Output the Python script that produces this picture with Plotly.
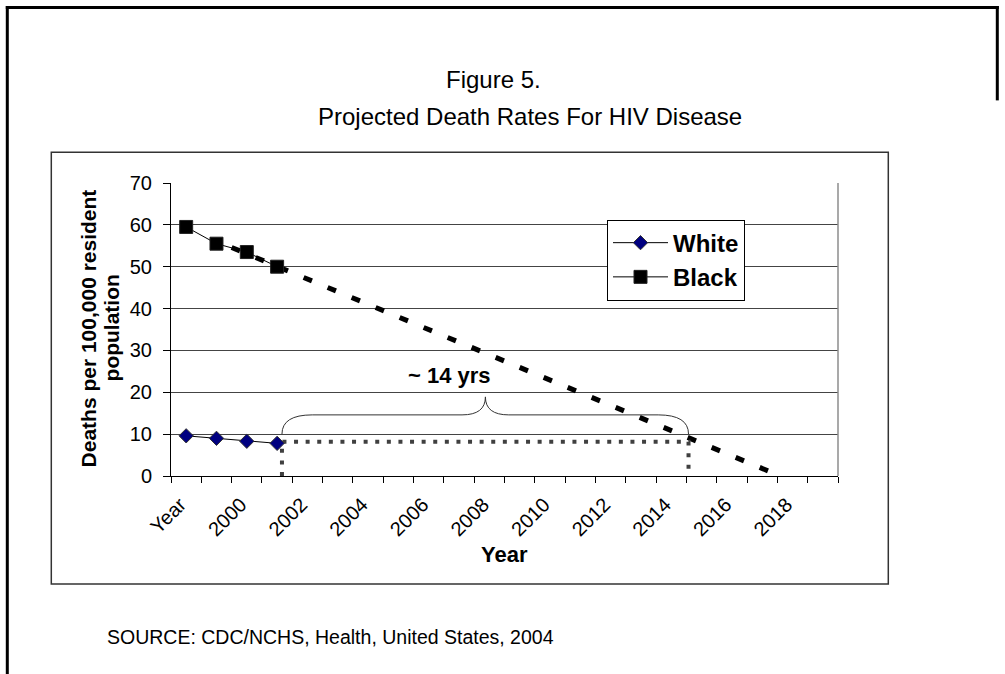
import plotly.graph_objects as go

# ---------------- data ----------------
categories = ["Year", "1999", "2000", "2001", "2002", "2003", "2004", "2005", "2006",
              "2007", "2008", "2009", "2010", "2011", "2012", "2013", "2014", "2015",
              "2016", "2017", "2018", "2019"]
tick_labels = ["Year", "2000", "2002", "2004", "2006", "2008", "2010", "2012",
               "2014", "2016", "2018"]
observed = ["Year", "1999", "2000", "2001"]
white_rates = [9.6, 9.0, 8.3, 7.8]
black_rates = [59.5, 55.5, 53.5, 50.0]
# projected trend for Black (category position, rate)
projection_pos = [1.5, 19.2]
projection_rates = [54.6, 1.2]
# dotted "gap" bracket (category position, rate)
gap_pos = [3.16, 3.16, 16.57, 16.57]
gap_rates = [0.0, 8.2, 8.2, 0.0]

# ---------------- layout geometry (pixels) ----------------
W, H = 1005, 674
L, R, T, B = 170.7, 837.7, 182.7, 476.0
def px(x):
    return (x - L) / (R - L)
def py(y):
    return (B - y) / (B - T)

FONT = "Liberation Sans, Arial, sans-serif"
pos = {c: i for i, c in enumerate(categories)}

fig = go.Figure()

fig.add_trace(go.Scatter(
    x=projection_pos, y=projection_rates, mode="lines",
    line=dict(color="black", width=5, dash="9px,17px"),
    showlegend=False, hoverinfo="skip"))

fig.add_trace(go.Scatter(
    x=gap_pos, y=gap_rates, mode="lines",
    line=dict(color="#404040", width=4, dash="4px,7.6px"),
    showlegend=False, hoverinfo="skip"))

fig.add_trace(go.Scatter(
    x=[pos[c] for c in observed], y=white_rates, mode="lines+markers", name="White",
    line=dict(color="black", width=1),
    marker=dict(symbol="diamond", size=11, color="#000080",
                line=dict(color="#333333", width=1))))

fig.add_trace(go.Scatter(
    x=[pos[c] for c in observed], y=black_rates, mode="lines+markers", name="Black",
    line=dict(color="black", width=1),
    marker=dict(symbol="square", size=13, color="black",
                line=dict(color="#222222", width=1))))

# brace (category position, rate)
bx0, bx1, bxm = 3.16, 16.57, 9.87
by0, byh, byp = 10.0, 14.6, 18.9
brace = (f"M {bx0},{by0} Q {bx0},{byh} {bx0+1.0},{byh} "
         f"L {bxm-0.77},{byh} Q {bxm},{byh} {bxm},{byp} "
         f"Q {bxm},{byh} {bxm+0.77},{byh} "
         f"L {bx1-1.0},{byh} Q {bx1},{byh} {bx1},{by0}")

shapes = [
    dict(type="path", path=brace, xref="x", yref="y",
         line=dict(color="#333333", width=1)),
    # plot-area right border
    dict(type="line", xref="paper", yref="paper", x0=1, x1=1, y0=0, y1=1,
         line=dict(color="#8c8c8c", width=1.5)),
    # chart box
    dict(type="rect", xref="paper", yref="paper",
         x0=px(51), x1=px(888), y0=py(584), y1=py(152),
         line=dict(color="#333333", width=1.5), layer="below"),
    # outer page frame
    dict(type="line", xref="paper", yref="paper", x0=px(7), x1=px(7),
         y0=py(5.5), y1=py(680), line=dict(color="black", width=3)),
    dict(type="line", xref="paper", yref="paper", x0=px(5.5), x1=px(998.5),
         y0=py(7), y1=py(7), line=dict(color="black", width=3)),
    dict(type="line", xref="paper", yref="paper", x0=px(997), x1=px(997),
         y0=py(5.5), y1=py(100), line=dict(color="black", width=3)),
]

def note(text, x, y, size, **kw):
    d = dict(text=text, x=x, y=y, xref="paper", yref="paper", showarrow=False,
             xanchor="center", yanchor="middle",
             font=dict(family=FONT, size=size, color="black"))
    d.update(kw)
    return d

annotations = [
    note("Figure 5.", px(493), py(79), 24),
    note("Projected Death Rates For HIV Disease", px(530), py(116), 24),
    note("<b>Deaths per 100,000 resident</b>", px(88), py(328), 21, textangle=-90),
    note("<b>population</b>", px(111), py(328), 21, textangle=-90),
    note("<b>Year</b>", px(504.5), py(555), 22),
    dict(text="<b>~ 14 yrs</b>", x=8.7, y=24.0, xref="x", yref="y",
         xanchor="center", yanchor="middle", showarrow=False,
         font=dict(family=FONT, size=22, color="black")),
    note("SOURCE: CDC/NCHS, Health, United States, 2004", px(105), py(637), 19.5,
         xanchor="left"),
]

fig.update_layout(
    width=W, height=H,
    margin=dict(l=L, r=W - R, t=T, b=H - B, pad=0),
    paper_bgcolor="white", plot_bgcolor="white",
    font=dict(family=FONT, size=20, color="black"),
    shapes=shapes, annotations=annotations,
    legend=dict(x=px(606.7), y=py(219.3), xanchor="left", yanchor="top",
                bgcolor="white", bordercolor="black", borderwidth=1,
                font=dict(family=FONT, size=24, color="black", weight="bold"),
                itemwidth=55, tracegroupgap=0),
    xaxis=dict(range=[-0.5, len(categories) - 0.5], tickmode="array",
               tickvals=[pos[t] for t in tick_labels], ticktext=tick_labels,
               tickangle=-45, ticks="", showgrid=False, zeroline=False,
               showline=True, linecolor="black", linewidth=1,
               ticklabelstandoff=8, ticklabelshift=-6,
               tickfont=dict(family=FONT, size=20, color="black"),
               minor=dict(tickmode="linear", tick0=-0.5, dtick=1, ticks="outside",
                          ticklen=6, tickcolor="black", tickwidth=1, showgrid=False)),
    yaxis=dict(range=[0, 70], dtick=10, ticks="outside", ticklen=7,
               tickcolor="black", showgrid=True, gridcolor="#444444", gridwidth=1,
               zeroline=False, showline=True, linecolor="black", linewidth=1,
               ticklabelstandoff=7,
               tickfont=dict(family=FONT, size=20, color="black")),
)

fig.write_html("out.html", config={"displayModeBar": False},
               post_script="document.body.style.margin='0';")
